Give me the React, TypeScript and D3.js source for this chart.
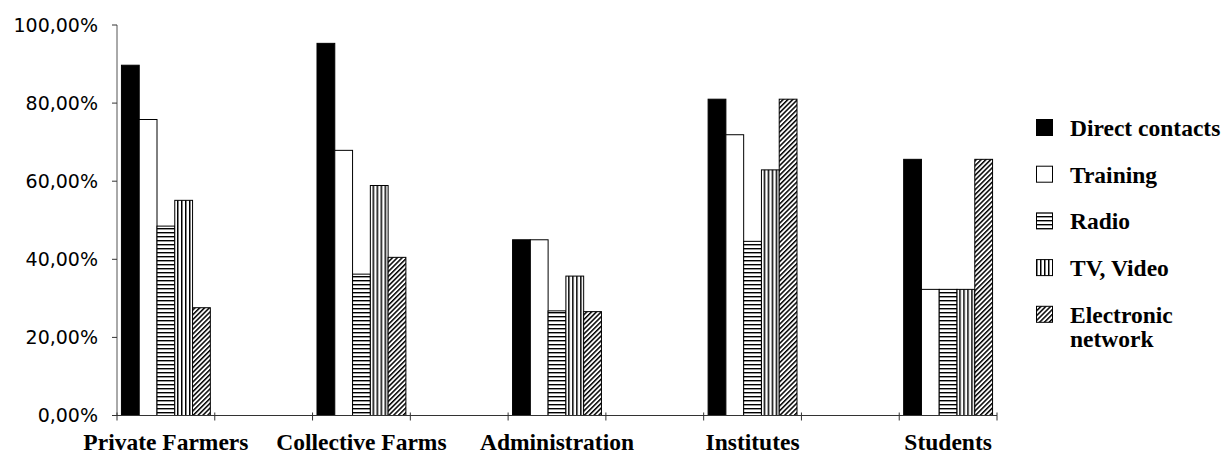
import React from 'react';
import * as d3 from 'd3';

// categories sit in every other slot; the blank slots are empty gaps on the axis
const categories = ['Private Farmers', 'Collective Farms', 'Administration', 'Institutes', 'Students'];
const series = ['Direct contacts', 'Training', 'Radio', 'TV, Video', 'Electronic network'];

const directContacts = [89.7, 95.3, 45.0, 81.0, 65.6];
const training = [75.8, 67.9, 45.0, 71.9, 32.3];
const radio = [48.5, 36.2, 26.8, 44.6, 32.3];
const tvVideo = [55.1, 58.9, 35.7, 62.9, 32.3];
const electronic = [27.6, 40.5, 26.6, 81.0, 65.6];

const yTicks = [0, 20, 40, 60, 80, 100];
const yTickLabels = ['0,00%', '20,00%', '40,00%', '60,00%', '80,00%', '100,00%'];

const values = [directContacts, training, radio, tvVideo, electronic];
const fills = ['#000', '#fff', 'url(#pRadio)', 'url(#pTv)', 'url(#pNet)'];

const W = 1224;
const H = 460;
const left = 117;
const right = 997;
const top = 25;
const bottom = 415.5;
const serif = "'Liberation Serif', 'Times New Roman', serif";

export default function App() {
  const slots: string[] = [];
  categories.forEach((c, i) => {
    slots.push(c);
    if (i < categories.length - 1) slots.push('_gap' + i);
  });

  const x0 = d3.scaleBand<string>().domain(slots).range([left, right]);
  const x1 = d3.scaleBand<string>().domain(series).range([0, x0.bandwidth()]).paddingOuter(0.25);
  const y = d3.scaleLinear().domain([0, 100]).range([bottom, top]);

  const boundaries = slots.map(s => x0(s) as number).concat([right]);

  return (
    <svg width={W} height={H} style={{ position: 'absolute', left: 0, top: 0, background: '#fff' }}>
      <defs>
        <pattern id="pRadio" width="4" height="4" patternUnits="userSpaceOnUse">
          <rect width="4" height="4" fill="#fff" />
          <rect y="0" width="4" height="1.4" fill="#000" />
        </pattern>
        <pattern id="pTv" width="4" height="4" patternUnits="userSpaceOnUse">
          <rect width="4" height="4" fill="#fff" />
          <rect x="0" width="1.5" height="4" fill="#000" />
        </pattern>
        <pattern id="pNet" width="3.4" height="3.4" patternUnits="userSpaceOnUse" patternTransform="rotate(45)">
          <rect width="3.4" height="3.4" fill="#fff" />
          <rect x="0" width="1.5" height="3.4" fill="#000" />
        </pattern>
      </defs>

      {/* y axis */}
      <line x1={left} x2={left} y1={top} y2={bottom} stroke="#555" strokeWidth={1} />
      {yTicks.map((t, i) => (
        <g key={t}>
          <line x1={left - 5} x2={left} y1={y(t)} y2={y(t)} stroke="#333" />
          <text
            x={left - 19}
            y={y(t)}
            dy="0.36em"
            textAnchor="end"
            fontFamily="'DejaVu Sans', sans-serif"
            fontSize={19}
            fill="#000"
          >
            {yTickLabels[i]}
          </text>
        </g>
      ))}

      {/* bars */}
      {categories.map((c, ci) => (
        <g key={c} transform={`translate(${x0(c)},0)`}>
          {series.map((s, si) => (
            <rect
              key={s}
              x={x1(s)}
              y={y(values[si][ci])}
              width={x1.bandwidth()}
              height={y(0) - y(values[si][ci])}
              fill={fills[si]}
              stroke="#000"
              strokeWidth={1}
            />
          ))}
        </g>
      ))}

      {/* x axis */}
      <line x1={left} x2={right} y1={bottom} y2={bottom} stroke="#333" strokeWidth={1.2} />
      {boundaries.map((b, i) => (
        <line key={i} x1={b} x2={b} y1={bottom - 3} y2={bottom + 5} stroke="#333" />
      ))}
      {categories.map(c => (
        <text
          key={c}
          x={(x0(c) as number) + x0.bandwidth() / 2}
          y={450}
          textAnchor="middle"
          fontFamily={serif}
          fontWeight="bold"
          fontSize={23.5}
          fill="#000"
        >
          {c}
        </text>
      ))}

      {/* legend */}
      {series.map((s, i) => {
        const ly = 119 + i * 46.7;
        const words = s === 'Electronic network' ? ['Electronic', 'network'] : [s];
        return (
          <g key={s}>
            <rect x={1036.5} y={ly + 0.5} width={16} height={16} fill={fills[i]} stroke="#000" strokeWidth={1} />
            {words.map((w, wi) => (
              <text
                key={w}
                x={1070}
                y={ly + 17 + wi * 24}
                fontFamily={serif}
                fontWeight="bold"
                fontSize={23.5}
                fill="#000"
              >
                {w}
              </text>
            ))}
          </g>
        );
      })}
    </svg>
  );
}
